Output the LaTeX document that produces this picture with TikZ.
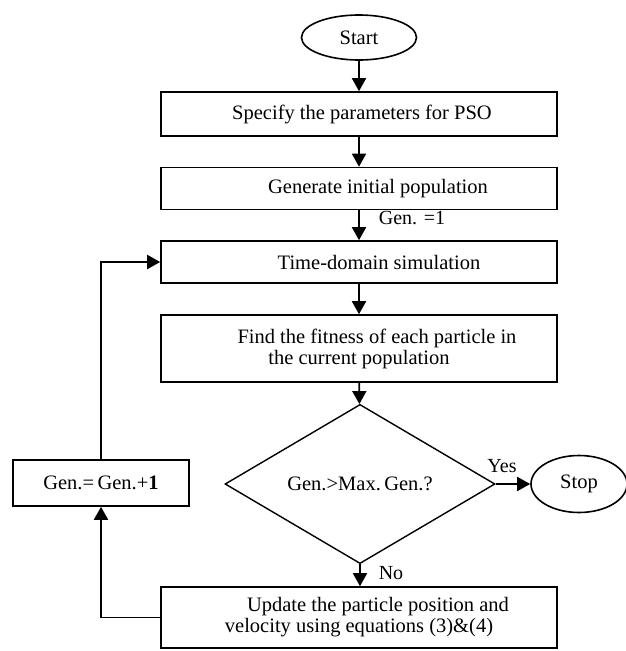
\documentclass[tikz,border=0pt]{standalone}
\usepackage{fontspec}
\setmainfont{Liberation Serif}
\usetikzlibrary{shapes.geometric,arrows.meta}
\begin{document}
\begin{tikzpicture}[x=1pt,y=-1pt,
  txt/.style={font=\fontsize{20.5}{21}\selectfont},
  box/.style={draw, line width=1.6pt, minimum width=396pt, inner sep=0pt, align=center, txt},
  oval/.style={draw, ellipse, line width=1.6pt, inner sep=0pt, txt},
  arr/.style={line width=1.8pt, -{Triangle[length=13pt,width=14pt]}},
  lbl/.style={font=\fontsize{20}{21}\selectfont, inner sep=0pt}]
\useasboundingbox (0,0) rectangle (625,651);
\node[oval, minimum width=115pt, minimum height=45pt] (start) at (359,37.5) {Start};
\node[box, minimum height=44pt] (b1) at (359,114) {\hspace*{6pt}Specify the parameters for PSO};
\node[box, minimum height=42pt] (b2) at (359,188.5) {\hspace*{38pt}Generate initial population};
\node[box, minimum height=42pt] (b3) at (359,262) {\hspace*{40pt}Time-domain simulation};
\node[box, minimum height=67pt] (b4) at (359,348.5) {\hspace*{36pt}Find the fitness of each particle in\\the current population};
\node[draw, diamond, line width=1.4pt, minimum width=270pt, minimum height=138pt, inner sep=0pt, txt] (dec) at (360,484) {Gen.>Max.\,Gen.?};
\node[oval, minimum width=96pt, minimum height=57pt] (stop) at (579,484) {Stop};
\node[box, minimum width=176pt, minimum height=46pt] (gen) at (101,483) {Gen.=\,Gen.+\textbf{1}};
\node[box, minimum height=61pt] (upd) at (359,617.5) {\hspace*{38pt}Update the particle position and\\velocity using equations (3)\&(4)};
\node[lbl] (l1) at (412,218) {Gen. =1};
\node[lbl] (l2) at (502,466) {Yes};
\node[lbl] (l3) at (391,573) {No};
\draw[arr] (start) -- (b1);
\draw[arr] (b1) -- (b2);
\draw[arr] (b2) -- (b3);
\draw[arr] (b3) -- (b4);
\draw[arr] (b4) -- (dec);
\draw[arr] (dec.east) -- (stop.west);
\draw[arr] (dec.south) -- (upd.north -| dec.south);
\draw[arr] (upd.west) -| (gen.south);
\draw[arr] (gen.north) |- (b3.west);
\end{tikzpicture}
\end{document}
